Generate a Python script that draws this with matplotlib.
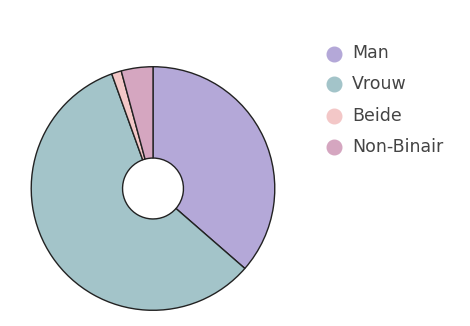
import matplotlib.pyplot as plt
from matplotlib.lines import Line2D

labels = ['Man', 'Vrouw', 'Beide', 'Non-Binair']
values = [36.4, 58.1, 1.3, 4.2]
colors = ['#b4a8d8', '#a3c4c9', '#f3c7c7', '#d5a6c0']

W, H = 470, 326
fig = plt.figure(figsize=(W / 100, H / 100), dpi=100)

# pie centre ~ (153, 189) px, radius ~123 px
cx, cy, r = 153, 188.5, 123
ax = fig.add_axes([(cx - r) / W, (H - cy - r) / H, 2 * r / W, 2 * r / H])
ax.pie(values, colors=colors, startangle=90, counterclock=False, radius=1,
       wedgeprops=dict(width=0.75, edgecolor='#222222', linewidth=1.0))
ax.set_xlim(-1.01, 1.01)
ax.set_ylim(-1.01, 1.01)
ax.set_aspect('equal')
ax.axis('off')

# legend, drawn by hand like plotly's
for i, (lab, col) in enumerate(zip(labels, colors)):
    y = 53.5 + i * 31
    fig.add_artist(Line2D([333.5 / W], [1 - y / H], marker='o', markersize=10.5,
                          color=col, linestyle='none', transform=fig.transFigure))
    fig.text(352 / W, 1 - y / H, lab, fontsize=12.5, family='DejaVu Sans',
             color='#444444', va='center', ha='left')

fig.savefig('out.png', dpi=100)
